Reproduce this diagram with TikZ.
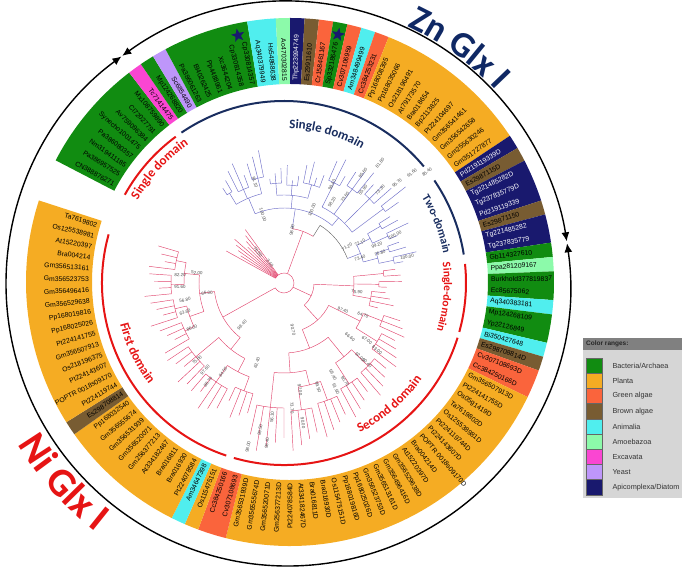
\documentclass[tikz,border=0pt]{standalone}
\usepackage{fontspec}
\setmainfont{Liberation Sans}
\newfontfamily\headfont{Carlito}
\usepackage{tikz}
\usetikzlibrary{arrows.meta,decorations.text,shapes.geometric}

\definecolor{bact}{RGB}{17,140,17}
\definecolor{plant}{RGB}{245,172,35}
\definecolor{galga}{RGB}{250,100,60}
\definecolor{balga}{RGB}{120,92,50}
\definecolor{anim}{RGB}{80,238,238}
\definecolor{amoeba}{RGB}{140,250,170}
\definecolor{excav}{RGB}{250,70,210}
\definecolor{yeast}{RGB}{190,150,250}
\definecolor{apic}{RGB}{25,25,110}
\definecolor{zntext}{RGB}{15,40,100}
\definecolor{znnavy}{RGB}{25,45,95}
\definecolor{nired}{RGB}{230,20,20}
\definecolor{znbranch}{RGB}{110,110,200}
\definecolor{nibranch}{RGB}{225,70,110}
\definecolor{legbody}{RGB}{214,214,214}
\definecolor{leghead}{RGB}{128,128,128}

% coloured sector of the label ring, leaves #1..#2
\newcommand{\band}[3]{%
  \pgfmathsetmacro\bA{151-3.13*(#1)+1.565}%
  \pgfmathsetmacro\bB{151-3.13*(#2)-1.565}%
  \fill[#3] (\bA:198pt) arc[start angle=\bA, end angle=\bB, radius=198pt]
    -- (\bB:264pt) arc[start angle=\bB, end angle=\bA, radius=264pt] -- cycle;}

% terminal clade: first, last, node radius, tip radius, parent radius
\newcommand{\tips}[5]{%
  \pgfmathsetmacro\tA{151-3.13*(#1)}%
  \pgfmathsetmacro\tB{151-3.13*(#2)}%
  \pgfmathsetmacro\tM{(\tA+\tB)/2}%
  \draw (\tA:#3pt) arc[start angle=\tA, end angle=\tB, radius=#3pt];
  \draw (\tM:#3pt) -- (\tM:#5pt);
  \foreach \k in {#1,...,#2}{%
    \pgfmathsetmacro\tK{151-3.13*\k}%
    \pgfmathsetmacro\tR{#4-5*mod(\k*7,4)}%
    \draw (\tK:#3pt) -- (\tK:\tR pt);}}

% inner clade: first child mid, last child mid, radius, parent radius
\newcommand{\inner}[4]{%
  \pgfmathsetmacro\iA{151-3.13*(#1)}%
  \pgfmathsetmacro\iB{151-3.13*(#2)}%
  \pgfmathsetmacro\iM{(\iA+\iB)/2}%
  \draw (\iA:#3pt) arc[start angle=\iA, end angle=\iB, radius=#3pt];
  \draw (\iM:#3pt) -- (\iM:#4pt);}

% bootstrap value at pixel position
\newcommand{\bs}[3]{%
  \pgfmathsetmacro\bsA{atan2(283-#2,#1-284)}%
  \pgfmathsetmacro\bsR{ifthenelse(cos(\bsA)<0,\bsA+180,\bsA)}%
  \node[bslabel, rotate=\bsR] at (#1,569-#2) {#3};}

\begin{document}
\begin{tikzpicture}[x=1pt,y=1pt,
  leaflabel/.style={font=\fontsize{6.8}{7}\selectfont, inner sep=1pt},
  bslabel/.style={font=\fontsize{4.5}{5}\selectfont, text=black!70, inner sep=0.5pt},
  znline/.style={draw=znbranch, line width=0.45pt},
  niline/.style={draw=nibranch, line width=0.45pt},
  greyline/.style={draw=black!60, line width=0.45pt},
  domarc/.style={line width=2pt},
  glxarc/.style={line width=1.4pt, {Latex[length=9pt,width=8pt]}-{Latex[length=9pt,width=8pt]}},
  swatch/.style={draw=black!60, line width=0.3pt, minimum width=16pt, minimum height=15.2pt, inner sep=0pt},
  legtext/.style={font=\fontsize{7.3}{8}\selectfont, text=black!80, anchor=west}
]
\useasboundingbox (0,0) rectangle (685,569);

% Zn / Ni arcs
\begin{scope}[shift={(288,285)}]
  \draw[glxarc] (126.0:282pt) arc[start angle=126.0, end angle=8.7, radius=282pt];
  \draw[glxarc] (8.3:282pt) arc[start angle=8.3, end angle=-233.8, radius=282pt];
  \path[decorate, decoration={text along path, text align=center, text color=zntext,
      text={|\headfont\bfseries\fontsize{36}{36}\selectfont|Zn Glx I}}]
    (74:284pt) arc[start angle=74, end angle=34, radius=284pt];
  \path[decorate, decoration={text along path, text align=center, text color=nired,
      text={|\headfont\bfseries\fontsize{40}{40}\selectfont|Ni Glx I}}]
    (200:314pt) arc[start angle=200, end angle=243, radius=314pt];
\end{scope}

% colour ring and leaf names
\begin{scope}[shift={(290,287)}]
  \band{0}{7}{bact} \band{8}{8}{excav} \band{9}{9}{bact} \band{10}{10}{yeast}
  \band{11}{16}{bact} \band{17}{18}{anim} \band{19}{19}{amoeba} \band{20}{20}{apic}
  \band{21}{21}{balga} \band{22}{22}{galga} \band{23}{23}{bact} \band{24}{24}{galga}
  \band{25}{25}{anim} \band{26}{26}{galga} \band{27}{37}{plant} \band{38}{38}{apic}
  \band{39}{39}{balga} \band{40}{42}{apic} \band{43}{43}{balga} \band{44}{45}{apic}
  \band{46}{46}{bact} \band{47}{47}{amoeba} \band{48}{49}{bact} \band{50}{50}{anim}
  \band{51}{52}{bact} \band{53}{53}{anim} \band{54}{54}{balga} \band{55}{56}{galga}
  \band{57}{81}{plant} \band{82}{83}{galga} \band{84}{84}{plant} \band{85}{85}{anim}
  \band{86}{94}{plant} \band{95}{95}{balga} \band{96}{111}{plant}
  \foreach \lbl/\lc [count=\i from 0] in {CN388876271/black, Pa386957525/black,
      Nm319411185/black, Pa386080357/black, Synecho1001475/black, Av759096384/black,
      Cl72027791/black, Mx108759890/black, Tc71414475/black, Mp124268820/black,
      Sc6854490/black, Pa386061263/black, Bl40262425/black, Pp4488961/black,
      Xc3644204/black, Cp330814358/black, Cp330814357/black, Aq340379949/black,
      Hs54868638/black, Ac470302815/black, Thp223994749/white, Es29911610/black,
      Cr158461167/black, Sp332186476/black, Cv307106959/black, Am348499499/black,
      Cc384253231/black, Pp168008395/black, Pp168035066/black, Os218196491/black,
      At79173570/black, Bra018654/black, Bp2113825/black, Pt224104697/black,
      Gm356541461/black, Gm356542658/black, Gm255630246/black, Gm351727877/black,
      Pd219119339D/white, Es2987115D/black, Tg221485282D/white, Tg237835779D/white,
      Pd219119339/white, Es29871150/black, Tg221485282/white, Tg237835779/white,
      Gb114327610/black, Ppa281209167/black, Burkhold377819837/black, Ec85675062/black,
      Aq340383181/black, Mp124268109/black, Yp22126849/black, Bi350427648/black,
      Es298708814D/black, Cv307108693D/black, Cc384250166D/black, Gm356507913D/black,
      Pt224141755D/black, Os05g1419D/black, Ta7619802D/black, Os125538981D/black,
      Pt224119744D/black, Pt224143607D/black, POPTR 0018s09170D/black, Bra004214D/black,
      At15220397D/black, Gm356529638D/black, Gm356496416D/black, Gm356513161D/black,
      Gm356523753D/black, Pp168025026D/black, Pp168019816D/black, Os115475151D/black,
      Bra016930D/black, Bra016811D/black, At334182467D/black, Pt224078584D/black,
      Gm256377213D/black, Gm356520071D/black, Gm356555674D/black, Gm356531939D/black,
      Cv307108693/black, Cc384250166/black, Os115475151/black, Am34647398/black,
      Pt224078584/black, Bra016930/black, Bra016811/black, At334182467/black,
      Gm256377213/black, Gm356520071/black, Gm356531939/black, Gm356555674/black,
      Pp168032540/black, Es298708814/black, Pt224119744/black, POPTR 0018s09170/black,
      Pt224143607/black, Os218196375/black, Gm356507913/black, Pt224141755/black,
      Pp168025026/black, Pp168019816/black, Gm356529638/black, Gm356496416/black,
      Gm356523753/black, Gm356513161/black, Bra004214/black, At15220397/black,
      Os125538981/black, Ta7619802/black}{
    \pgfmathsetmacro\la{151-3.13*\i}
    \pgfmathtruncatemacro\lside{(\la>90)||(\la<-90)}
    \ifnum\lside=1
      \node[leaflabel, text=\lc, anchor=east, rotate=\la+180] (leaf\i) at (\la:200pt) {\lbl};
    \else
      \node[leaflabel, text=\lc, anchor=west, rotate=\la] (leaf\i) at (\la:200pt) {\lbl};
    \fi}
  \node[star, star points=5, star point ratio=2.4, fill=apic, minimum size=14pt,
    inner sep=0pt, rotate=12] (starA) at (101.9:252pt) {};
  \node[star, star points=5, star point ratio=2.4, fill=apic, minimum size=14pt,
    inner sep=0pt, rotate=-11] (starB) at (79.0:252pt) {};
\end{scope}

% tree
\begin{scope}[shift={(284,286)}]
  \begin{scope}[znline]
    \tips{9}{10}{105}{128}{92}
    \tips{11}{13}{102}{130}{92}
    \tips{14}{16}{108}{135}{92}
    \inner{9.5}{15}{92}{75}
    \tips{17}{19}{100}{120}{88}
    \tips{20}{22}{98}{118}{88}
    \tips{23}{26}{102}{125}{88}
    \inner{18}{24.5}{88}{75}
    \tips{27}{29}{112}{138}{85}
    \tips{30}{32}{116}{142}{85}
    \tips{33}{35}{120}{148}{85}
    \tips{36}{37}{124}{155}{85}
    \inner{28}{36.5}{85}{75}
    \inner{12.25}{32.25}{75}{55}
    \tips{38}{39}{112}{135}{97}
    \tips{40}{41}{114}{138}{97}
    \inner{38.5}{40.5}{97}{82}
    \tips{42}{43}{110}{132}{97}
    \tips{44}{45}{112}{136}{97}
    \inner{42.5}{44.5}{97}{82}
    \inner{39.5}{43.5}{82}{68}
  \end{scope}
  \draw[greyline] (58:55pt) -- (58:68pt) arc[start angle=58, end angle=21.1, radius=68pt];
  \begin{scope}[niline]
    \draw (81.4:55pt) arc[start angle=81.4, end angle=58, radius=55pt];
    \draw (69.7:55pt) -- (69.7:10pt);
    \draw (151:10pt) arc[start angle=151, end angle=-150.85, radius=10pt];
    \tips{0}{8}{10}{66}{10}
    % single-domain
    \tips{46}{47}{100}{122}{70}
    \tips{48}{49}{95}{118}{70}
    \tips{50}{53}{88}{112}{70}
    \inner{46.5}{51.5}{70}{30}
    % second domain
    \tips{54}{56}{105}{132}{85}
    \tips{57}{60}{110}{140}{85}
    \inner{55}{58.5}{85}{50}
    \tips{61}{64}{118}{148}{95}
    \tips{65}{68}{120}{152}{95}
    \inner{62.5}{66.5}{95}{70}
    \tips{69}{72}{125}{160}{105}
    \tips{73}{76}{128}{168}{105}
    \inner{70.5}{74.5}{105}{90}
    \tips{77}{81}{125}{170}{90}
    \inner{72.5}{79}{90}{70}
    \inner{64.5}{75.75}{70}{50}
    \inner{56.75}{70.125}{50}{30}
    \inner{49}{63.4375}{30}{10}
    % first domain
    \tips{82}{85}{115}{145}{100}
    \tips{86}{90}{120}{152}{100}
    \inner{83.5}{88}{100}{85}
    \tips{91}{95}{115}{145}{85}
    \inner{85.75}{93}{85}{70}
    \tips{96}{99}{110}{138}{100}
    \tips{100}{103}{112}{140}{100}
    \inner{97.5}{101.5}{100}{85}
    \tips{104}{107}{113}{140}{100}
    \tips{108}{111}{110}{136}{100}
    \inner{105.5}{109.5}{100}{85}
    \inner{99.5}{107.5}{85}{70}
    \inner{89.375}{103.5}{70}{10}
  \end{scope}
  % domain arcs
  \draw[domarc, nired] (151:182pt) arc[start angle=151, end angle=126.5, radius=182pt];
  \draw[domarc, znnavy] (124.3:182pt) arc[start angle=124.3, end angle=39.8, radius=182pt];
  \draw[domarc, znnavy] (34.3:182pt) arc[start angle=34.3, end angle=9, radius=182pt];
  \draw[domarc, nired] (6:182pt) arc[start angle=6, end angle=-15.6, radius=182pt];
  \draw[domarc, nired] (-17.5:182pt) arc[start angle=-17.5, end angle=-106, radius=182pt];
  \draw[domarc, nired] (-108.5:182pt) arc[start angle=-108.5, end angle=-195.5, radius=182pt];
  % domain names
  \path[decorate, decoration={text along path, text align=center, text color=znnavy,
      text={|\headfont\bfseries\fontsize{13}{13}\selectfont|Single domain}}]
    (94:155pt) arc[start angle=94, end angle=54, radius=155pt];
  \path[decorate, decoration={text along path, text align=center, text color=znnavy,
      text={|\headfont\bfseries\fontsize{11.5}{12}\selectfont|Two-domain}}]
    (42:162pt) arc[start angle=42, end angle=0, radius=162pt];
  \path[decorate, decoration={text along path, text align=center, text color=nired,
      text={|\headfont\bfseries\fontsize{11.5}{12}\selectfont|Single-domain}}]
    (16:160pt) arc[start angle=16, end angle=-26, radius=160pt];
  \path[decorate, decoration={text along path, text align=center, text color=nired,
      text={|\headfont\bfseries\fontsize{13}{13}\selectfont|Second domain}}]
    (-87:168pt) arc[start angle=-87, end angle=-11, radius=168pt];
  \path[decorate, decoration={text along path, text align=center, text color=nired,
      text={|\headfont\bfseries\fontsize{13}{13}\selectfont|First domain}}]
    (170:169pt) arc[start angle=170, end angle=241, radius=169pt];
  \path[decorate, decoration={text along path, text align=center, text color=nired,
      text={|\headfont\bfseries\fontsize{13}{13}\selectfont|Single domain}}]
    (162:168pt) arc[start angle=162, end angle=113, radius=168pt];
\end{scope}

% bootstrap values
\bs{255}{182}{91.10} \bs{263}{215}{100.00} \bs{292}{230}{98.80} \bs{312}{210}{100.00}
\bs{332}{185}{98.40} \bs{332}{202}{58.20} \bs{345}{197}{73.60} \bs{363}{173}{95.60}
\bs{380}{163}{81.80} \bs{363}{190}{55.90} \bs{380}{190}{73.30} \bs{397}{183}{95.70}
\bs{412}{173}{61.60} \bs{427}{172}{85.40}
\bs{347}{247}{71.20} \bs{360}{243}{72.10} \bs{377}{245}{99.20} \bs{395}{235}{100.00}
\bs{360}{258}{73.40} \bs{380}{253}{76.80} \bs{407}{257}{100.00}
\bs{258}{252}{76.50} \bs{270}{263}{3.10}
\bs{357}{292}{75.90} \bs{343}{310}{97.40} \bs{363}{315}{64.70} \bs{350}{337}{66.60}
\bs{367}{340}{67.00} \bs{377}{350}{83.00} \bs{360}{357}{52.00} \bs{367}{363}{50.40}
\bs{345}{381}{90.70} \bs{333}{375}{59.40} \bs{336}{389}{91.60} \bs{293}{330}{90.70}
\bs{300}{390}{97.00} \bs{318}{387}{99.50} \bs{292}{408}{73.70} \bs{303}{423}{90.00}
\bs{272}{417}{56.10} \bs{260}{430}{89.50} \bs{267}{443}{98.40} \bs{248}{447}{98.00}
\bs{180}{275}{82.20} \bs{197}{273}{52.00} \bs{180}{287}{91.60} \bs{207}{293}{66.00}
\bs{185}{300}{56.80} \bs{185}{312}{63.60} \bs{192}{328}{86.00} \bs{242}{325}{98.40}
\bs{197}{360}{75.80} \bs{205}{370}{97.60} \bs{208}{382}{86.70} \bs{223}{372}{84.50}
\bs{257}{363}{62.40}

% legend
\fill[legbody] (583,71) rectangle (682,219);
\fill[leghead] (583,219) rectangle (682,231);
\node[font=\fontsize{6.5}{7}\selectfont\bfseries, text=black!85, anchor=west, inner sep=1pt]
  (legtitle) at (585,225) {Color ranges:};
\foreach \c/\t [count=\k from 0] in {bact/{Bacteria/Archaea}, plant/{Planta},
    galga/{Green algae}, balga/{Brown algae}, anim/{Animalia}, amoeba/{Amoebazoa},
    excav/{Excavata}, yeast/{Yeast}, apic/{Apicomplexa/Diatom}}{
  \node[swatch, fill=\c] (sw\k) at (594,203.4-15.2*\k) {};
  \node[legtext] (lt\k) at (609,203.4-15.2*\k) {\t};}
\end{tikzpicture}
\end{document}
